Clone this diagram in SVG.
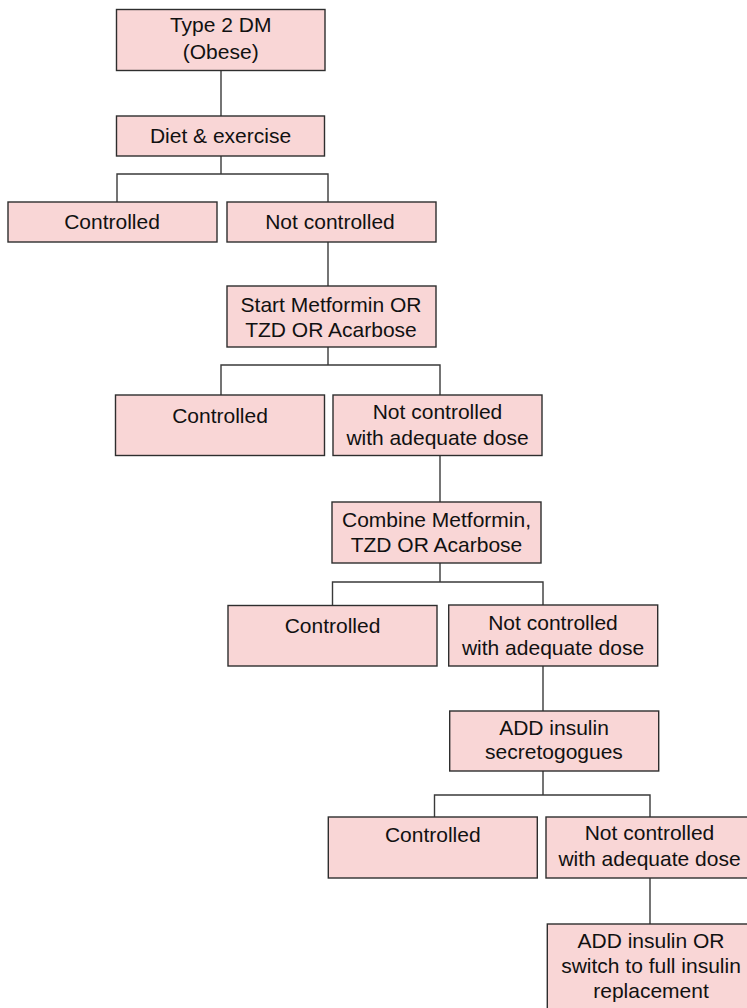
<svg xmlns="http://www.w3.org/2000/svg" width="747" height="1008" viewBox="0 0 747 1008">
  <style>
    .box { fill: #f9d6d6; stroke: #2e2e2e; stroke-width: 1.4; }
    .lbl { font-family: "Liberation Sans", Arial, sans-serif; font-size: 21px; fill: #111; text-anchor: middle; }
    .conn { fill: none; stroke: #3a3a3a; stroke-width: 1.4; }
  </style>
  <rect width="747" height="1008" fill="#ffffff"/>

  <!-- connectors -->
  <g id="connectors" class="conn">
    <path d="M221 70 V116"/>
    <path d="M221 156 V174 M117 202 V174 H328 V202"/>
    <path d="M328 242 V286"/>
    <path d="M328 347 V365 M221 395 V365 H440 V395"/>
    <path d="M440 455 V502"/>
    <path d="M440 563 V582 M332.5 606 V582 H543 V605"/>
    <path d="M543 666 V711"/>
    <path d="M543 771 V795 M434.5 817 V795 H650 V817"/>
    <path d="M650 878 V924"/>
  </g>

  <!-- start -->
  <g id="type2dm">
    <rect class="box" x="116.5" y="9.5" width="208.5" height="61"/>
    <text class="lbl" x="220.7" y="32">Type 2 DM</text>
    <text class="lbl" x="220.7" y="58.5">(Obese)</text>
  </g>

  <g id="diet">
    <rect class="box" x="116.5" y="116" width="208" height="40"/>
    <text class="lbl" x="220.5" y="143">Diet &amp; exercise</text>
  </g>

  <g id="controlled1">
    <rect class="box" x="8" y="202" width="209" height="40"/>
    <text class="lbl" x="112" y="229">Controlled</text>
  </g>

  <g id="notcontrolled1">
    <rect class="box" x="227" y="202" width="209" height="40"/>
    <text class="lbl" x="330" y="229">Not controlled</text>
  </g>

  <g id="metformin">
    <rect class="box" x="227" y="286" width="209" height="61"/>
    <text class="lbl" x="331" y="312.3">Start Metformin OR</text>
    <text class="lbl" x="331" y="337.3">TZD OR Acarbose</text>
  </g>

  <g id="controlled2">
    <rect class="box" x="115.5" y="395" width="209" height="60.5"/>
    <text class="lbl" x="220" y="422.5">Controlled</text>
  </g>

  <g id="notcontrolled2">
    <rect class="box" x="333" y="395" width="209" height="60.5"/>
    <text class="lbl" x="437.5" y="419">Not controlled</text>
    <text class="lbl" x="437.5" y="444.5">with adequate dose</text>
  </g>

  <g id="combine">
    <rect class="box" x="332" y="502" width="209" height="61"/>
    <text class="lbl" x="436.5" y="527.3">Combine Metformin,</text>
    <text class="lbl" x="436.5" y="551.5">TZD OR Acarbose</text>
  </g>

  <g id="controlled3">
    <rect class="box" x="228" y="605.5" width="209" height="60.5"/>
    <text class="lbl" x="332.5" y="633">Controlled</text>
  </g>

  <g id="notcontrolled3">
    <rect class="box" x="448.7" y="605" width="209" height="61"/>
    <text class="lbl" x="553" y="630">Not controlled</text>
    <text class="lbl" x="553" y="655">with adequate dose</text>
  </g>

  <g id="secretogogues">
    <rect class="box" x="449.7" y="711" width="209" height="60"/>
    <text class="lbl" x="554" y="735">ADD insulin</text>
    <text class="lbl" x="554" y="759">secretogogues</text>
  </g>

  <g id="controlled4">
    <rect class="box" x="328.3" y="817" width="209" height="61"/>
    <text class="lbl" x="432.8" y="841.7">Controlled</text>
  </g>

  <g id="notcontrolled4">
    <rect class="box" x="546" y="817" width="209" height="61"/>
    <text class="lbl" x="649.5" y="840">Not controlled</text>
    <text class="lbl" x="649.5" y="865.5">with adequate dose</text>
  </g>

  <g id="insulin">
    <rect class="box" x="547.3" y="924" width="209" height="92"/>
    <text class="lbl" x="651" y="947.7">ADD insulin OR</text>
    <text class="lbl" x="651" y="973.3">switch to full insulin</text>
    <text class="lbl" x="651" y="998.3">replacement</text>
  </g>
</svg>
